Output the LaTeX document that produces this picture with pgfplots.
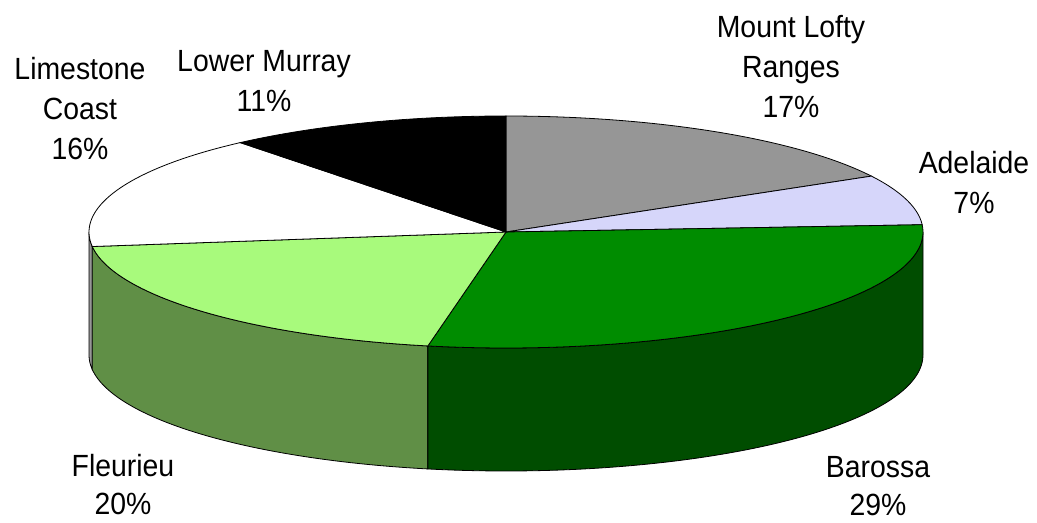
\documentclass[border=0pt]{standalone}
\usepackage{pgfplots}
\pgfplotsset{compat=1.18}
\usepackage{pgfplotstable}
\usepgfplotslibrary{fillbetween}
\usepackage{fontspec}
\setmainfont{Liberation Sans}
\definecolor{cLofty}{RGB}{150,150,150}
\definecolor{cAdel}{RGB}{214,214,250}
\definecolor{cBar}{RGB}{0,140,0}
\definecolor{cBarS}{RGB}{0,77,0}
\definecolor{cFle}{RGB}{168,250,124}
\definecolor{cFleS}{RGB}{96,143,70}
\definecolor{cLimS}{RGB}{150,150,150}
\pgfplotstableread{
region share
MountLofty 17
Adelaide 7
Barossa 29
Fleurieu 20
Limestone 16
LowerMurray 11
}\pietable
\pgfplotstablegetelem{0}{share}\of\pietable\let\sA\pgfplotsretval
\pgfplotstablegetelem{1}{share}\of\pietable\let\sB\pgfplotsretval
\pgfplotstablegetelem{2}{share}\of\pietable\let\sC\pgfplotsretval
\pgfplotstablegetelem{3}{share}\of\pietable\let\sD\pgfplotsretval
\pgfplotstablegetelem{4}{share}\of\pietable\let\sE\pgfplotsretval
\pgfplotstablegetelem{5}{share}\of\pietable\let\sF\pgfplotsretval
\pgfmathsetmacro\tA{90-3.6*\sA}
\pgfmathsetmacro\tB{\tA-3.6*\sB}
\pgfmathsetmacro\tC{\tB-3.6*\sC}
\pgfmathsetmacro\tD{\tC-3.6*\sD}
\pgfmathsetmacro\tE{\tD-3.6*\sE}
\pgfmathsetmacro\tF{\tE-3.6*\sF}
\def\pcx{506}\def\pcy{232}\def\pra{417}\def\prb{116}\def\pdep{123}
\newcommand\lab[3]{\node[anchor=base,inner sep=0pt,font=\fontsize{28.5}{32}\selectfont] at (#1,#2) {\scalebox{1}[1.08]{#3}};}
\begin{document}%
\begin{tikzpicture}
\begin{axis}[width=1037bp,height=522bp,scale only axis,
  xmin=0,xmax=1037,ymin=0,ymax=522,y dir=reverse,
  hide axis,clip=false]
\path (0,0) rectangle (1037,522);
% side faces
\addplot[name path=tL,draw=none,domain=-180:\tD,samples=10] ({\pcx+\pra*cos(x)},{\pcy-\prb*sin(x)});
\addplot[name path=bL,draw=none,domain=-180:\tD,samples=10] ({\pcx+\pra*cos(x)},{\pcy+\pdep-\prb*sin(x)});
\addplot[fill=cLimS,draw=black,line width=0.8bp] fill between[of=tL and bL];
\addplot[name path=tF,draw=none,domain=\tD:\tC,samples=60] ({\pcx+\pra*cos(x)},{\pcy-\prb*sin(x)});
\addplot[name path=bF,draw=none,domain=\tD:\tC,samples=60] ({\pcx+\pra*cos(x)},{\pcy+\pdep-\prb*sin(x)});
\addplot[fill=cFleS,draw=black,line width=0.8bp] fill between[of=tF and bF];
\addplot[name path=tBa,draw=none,domain=\tC:0,samples=80] ({\pcx+\pra*cos(x)},{\pcy-\prb*sin(x)});
\addplot[name path=bBa,draw=none,domain=\tC:0,samples=80] ({\pcx+\pra*cos(x)},{\pcy+\pdep-\prb*sin(x)});
\addplot[fill=cBarS,draw=black,line width=0.8bp] fill between[of=tBa and bBa];
% top faces
\addplot[fill=cLofty,draw=black,line width=0.8bp,domain=\tA:90,samples=60] ({\pcx+\pra*cos(x)},{\pcy-\prb*sin(x)}) -- (\pcx,\pcy) -- cycle;
\addplot[fill=cAdel,draw=black,line width=0.8bp,domain=\tB:\tA,samples=40] ({\pcx+\pra*cos(x)},{\pcy-\prb*sin(x)}) -- (\pcx,\pcy) -- cycle;
\addplot[fill=cBar,draw=black,line width=0.8bp,domain=\tC:\tB,samples=90] ({\pcx+\pra*cos(x)},{\pcy-\prb*sin(x)}) -- (\pcx,\pcy) -- cycle;
\addplot[fill=cFle,draw=black,line width=0.8bp,domain=\tD:\tC,samples=60] ({\pcx+\pra*cos(x)},{\pcy-\prb*sin(x)}) -- (\pcx,\pcy) -- cycle;
\addplot[fill=white,draw=black,line width=0.8bp,domain=\tE:\tD,samples=60] ({\pcx+\pra*cos(x)},{\pcy-\prb*sin(x)}) -- (\pcx,\pcy) -- cycle;
\addplot[fill=black,draw=black,line width=0.8bp,domain=\tF:\tE,samples=40] ({\pcx+\pra*cos(x)},{\pcy-\prb*sin(x)}) -- (\pcx,\pcy) -- cycle;
% labels
\lab{791}{38}{Mount Lofty}
\lab{791}{78}{Ranges}
\lab{791}{118}{17\%}
\lab{974}{174}{Adelaide}
\lab{974}{214}{7\%}
\lab{878}{477}{Barossa}
\lab{878}{515}{29\%}
\lab{123}{476}{Fleurieu}
\lab{123}{514}{20\%}
\lab{80}{80}{Limestone}
\lab{80}{120}{Coast}
\lab{80}{160}{16\%}
\lab{264}{72}{Lower Murray}
\lab{264}{112}{11\%}
\end{axis}
\end{tikzpicture}%
\end{document}
